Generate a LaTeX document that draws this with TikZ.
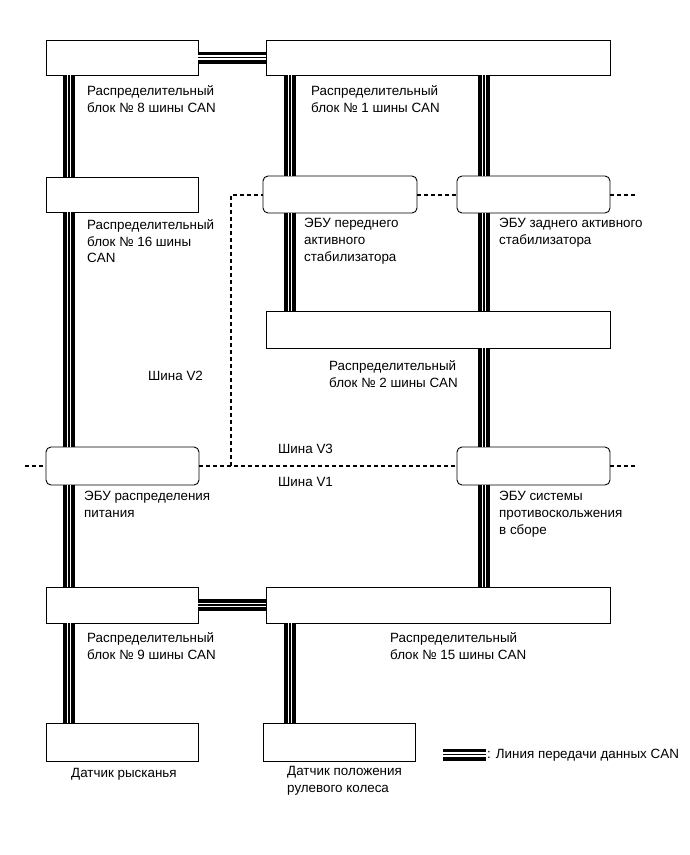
\documentclass[tikz,border=0pt]{standalone}
\usepackage{fontspec}
\setmainfont{Liberation Sans}
\begin{document}
\begin{tikzpicture}[x=1pt,y=-1pt,
  box/.style={draw=black, fill=white, line width=0.9pt, rectangle, inner sep=0pt},
  ecu/.style={box, rounded corners=5pt},
  can/.style={draw=black, line width=12pt, postaction={draw=white, line width=4.5pt}, postaction={draw=black, line width=1.2pt}},
  bus/.style={draw=black, line width=2pt, dash pattern=on 4pt off 3pt},
  txt/.style={anchor=north west, inner sep=0pt, align=left, font=\fontsize{13.4pt}{16.7pt}\selectfont\strut}]
\useasboundingbox (0,0) rectangle (690,855);
% boxes
\node[box, minimum width=152pt, minimum height=35pt] (b8) at (122,57.5) {};
\node[box, minimum width=344pt, minimum height=35pt] (b1) at (438,57.5) {};
\node[box, minimum width=152pt, minimum height=35pt] (b16) at (122,194.5) {};
\node[ecu, minimum width=154pt, minimum height=37pt] (ecuF) at (340,194.5) {};
\node[ecu, minimum width=153pt, minimum height=37pt] (ecuR) at (533.5,194.5) {};
\node[box, minimum width=344pt, minimum height=37pt] (b2) at (438,329.5) {};
\node[ecu, minimum width=153pt, minimum height=38pt] (ecuP) at (122.5,466) {};
\node[ecu, minimum width=153pt, minimum height=38pt] (ecuA) at (533.5,466) {};
\node[box, minimum width=152pt, minimum height=36pt] (b9) at (122,605) {};
\node[box, minimum width=344pt, minimum height=36pt] (b15) at (438,605) {};
\node[box, minimum width=152pt, minimum height=38pt] (yaw) at (122,742) {};
\node[box, minimum width=152pt, minimum height=38pt] (steer) at (339,742) {};
% CAN lines
\coordinate (xL) at (69,0);
\coordinate (xM) at (290,0);
\coordinate (xR) at (484,0);
\draw[can] (b8.east) -- (b1.west);
\draw[can] (b9.east) -- (b15.west);
\draw[can] (b8.south -| xL) -- (b16.north -| xL);
\draw[can] (b16.south -| xL) -- (ecuP.north -| xL);
\draw[can] (ecuP.south -| xL) -- (b9.north -| xL);
\draw[can] (b9.south -| xL) -- (yaw.north -| xL);
\draw[can] (b1.south -| xM) -- (ecuF.north -| xM);
\draw[can] (ecuF.south -| xM) -- (b2.north -| xM);
\draw[can] (b15.south -| xM) -- (steer.north -| xM);
\draw[can] (b1.south -| xR) -- (ecuR.north -| xR);
\draw[can] (ecuR.south -| xR) -- (b2.north -| xR);
\draw[can] (b2.south -| xR) -- (ecuA.north -| xR);
\draw[can] (ecuA.south -| xR) -- (b15.north -| xR);
% dotted buses
\coordinate (dL) at (25,466);
\coordinate (dJ) at (231,466);
\coordinate (dT) at (231,194.5);
\coordinate (dR1) at (637,194.5);
\coordinate (dR2) at (637,466);
\draw[bus] (dL) -- (ecuP.west);
\draw[bus] (ecuP.east) -- (ecuA.west);
\draw[bus] (dJ) -- (dT) -- (ecuF.west);
\draw[bus] (ecuF.east) -- (ecuR.west);
\draw[bus] (ecuR.east) -- (dR1);
\draw[bus] (ecuA.east) -- (dR2);
% texts
\node[txt] (t8) at (87,85.3) {Распределительный\\блок № 8 шины CAN};
\node[txt] (t1) at (311,85.3) {Распределительный\\блок № 1 шины CAN};
\node[txt] (t16) at (87,219.3) {Распределительный\\блок № 16 шины\\CAN};
\node[txt] (tF) at (304,218.3) {ЭБУ переднего\\активного\\стабилизатора};
\node[txt] (tR) at (499,218.3) {ЭБУ заднего активного\\стабилизатора};
\node[txt] (t2) at (329,360.3) {Распределительный\\блок № 2 шины CAN};
\node[txt] (tV2) at (148,368.3) {Шина V2};
\node[txt] (tV3) at (278,441.3) {Шина V3};
\node[txt] (tV1) at (278,474.3) {Шина V1};
\node[txt] (tP) at (84,491.3) {ЭБУ распределения\\питания};
\node[txt] (tA) at (499,491.3) {ЭБУ системы\\противоскольжения\\в сборе};
\node[txt] (t9) at (87,632.3) {Распределительный\\блок № 9 шины CAN};
\node[txt] (t15) at (390,632.3) {Распределительный\\блок № 15 шины CAN};
\node[txt] (tY) at (71,765.3) {Датчик рысканья};
\node[txt] (tS) at (287,766.3) {Датчик положения\\рулевого колеса};
% legend
\coordinate (lg1) at (443,754.5);
\coordinate (lg2) at (486,754.5);
\draw[can] (lg1) -- (lg2);
\node[txt] (lgt) at (487,746.3) {: Линия передачи данных CAN};
\end{tikzpicture}
\end{document}
